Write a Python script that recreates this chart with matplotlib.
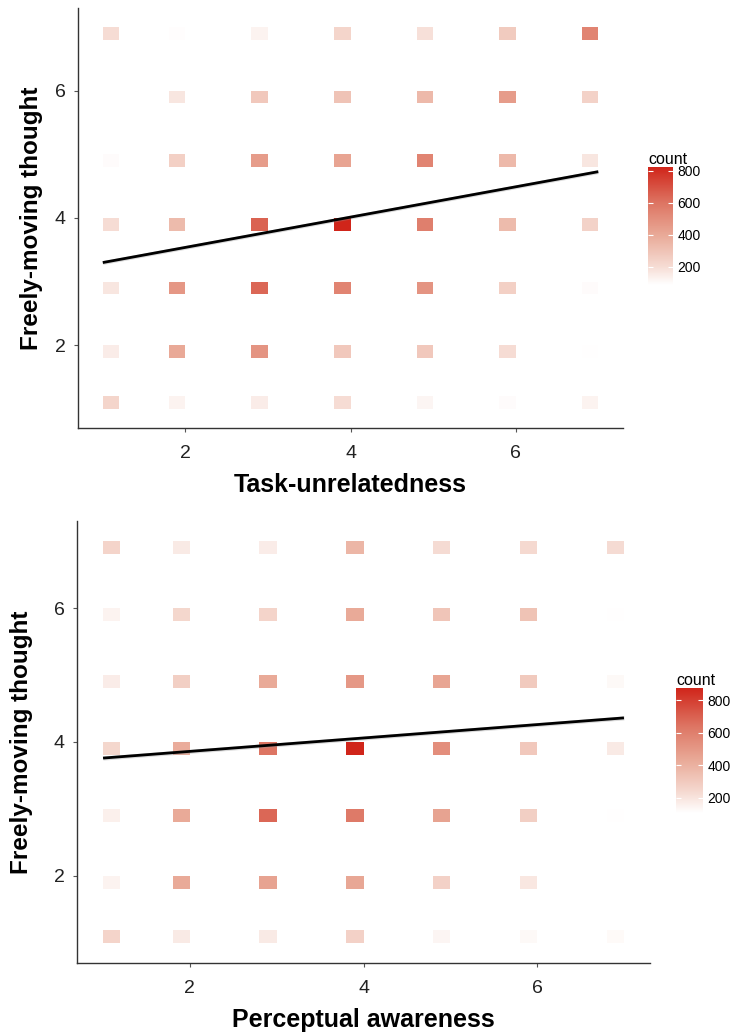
"""
Binned counts of thought ratings with linear fits (two stacked panels).
Generates out.png.
"""
import numpy as np
import matplotlib.pyplot as plt
from matplotlib.colors import LinearSegmentedColormap, Normalize
from matplotlib.cm import ScalarMappable

plt.rcParams['font.family'] = ['Liberation Sans', 'DejaVu Sans']

# ─── Data ───
levels = [1, 2, 3, 4, 5, 6, 7]

# counts per cell, rows are y = 7 (top) ... 1 (bottom), columns x = 1 ... 7
tu_counts = [
    [200, 95, 130, 230, 190, 270, 540],
    [87, 170, 280, 300, 340, 450, 240],
    [100, 250, 450, 420, 540, 340, 170],
    [200, 330, 650, 825, 560, 330, 240],
    [170, 470, 640, 540, 480, 250, 100],
    [150, 400, 480, 280, 280, 200, 90],
    [230, 130, 150, 200, 120, 100, 130],
]
pa_counts = [
    [260, 180, 170, 380, 230, 240, 230],
    [150, 250, 260, 430, 320, 330, 110],
    [170, 280, 430, 500, 450, 300, 130],
    [250, 420, 640, 875, 540, 310, 180],
    [160, 430, 680, 620, 460, 280, 110],
    [150, 430, 460, 440, 270, 190, 106],
    [260, 180, 180, 270, 140, 130, 125],
]

# linear fits: intercept, slope
tu_fit = (3.062, 0.238)
pa_fit = (3.66, 0.10)

cbar_ticks = [200, 400, 600, 800]

# ─── Style ───
cmap = LinearSegmentedColormap.from_list(
    'count', [(0.0, '#FFFFFF'), (0.15, '#F6DDD5'), (0.42, '#E9AA98'),
              (0.70, '#DD7462'), (1.0, '#D0251A')])
tick_col = '#222222'


def bin_centers(vals):
    # ggplot bin2d: value 1 falls in [1, 1.2], others in [v-0.2, v]
    v = np.asarray(vals, dtype=float)
    return np.where(v == 1, v + 0.1, v - 0.1)


def panel(ax, cax, counts, fit, xlabel, xlab_y, ylab_x):
    c = np.array(counts, dtype=float)[::-1]   # row 0 -> y = 1
    norm = Normalize(vmin=c.min(), vmax=c.max())
    xc = bin_centers(levels)
    yc = bin_centers(levels)
    for j, yv in enumerate(yc):
        ax.bar(xc, 0.2, width=0.2, bottom=yv - 0.1,
               color=cmap(norm(c[j])), linewidth=0)

    xs = np.array([1.0, 7.0])
    ys = fit[0] + fit[1] * xs
    ax.fill_between(xs, ys - 0.03, ys + 0.03, color='#999999', alpha=0.35, lw=0)
    ax.plot(xs, ys, color='black', lw=2.0, solid_capstyle='butt')

    ax.set_xlim(0.7, 7.3)
    ax.set_ylim(0.7, 7.3)
    ax.set_xticks([2, 4, 6])
    ax.set_yticks([2, 4, 6])
    for s in ['top', 'right']:
        ax.spines[s].set_visible(False)
    for s in ['left', 'bottom']:
        ax.spines[s].set_color('#333333')
        ax.spines[s].set_linewidth(1.0)
    ax.tick_params(length=3, width=0.8, color='#555555', labelsize=14,
                   labelcolor=tick_col)
    ax.tick_params(axis='x', pad=9)
    ax.tick_params(axis='y', pad=6)

    ax.set_xlabel(xlabel, fontsize=18, weight='bold')
    ax.xaxis.set_label_coords(0.5, xlab_y)
    ax.xaxis.label.set_va('center')
    ax.set_ylabel('Freely-moving thought', fontsize=17.5, weight='bold')
    ax.yaxis.set_label_coords(ylab_x, 0.5)
    ax.yaxis.label.set_va('center')

    sm = ScalarMappable(norm=norm, cmap=cmap)
    cb = plt.colorbar(sm, cax=cax, ticks=cbar_ticks)
    cb.outline.set_visible(False)
    cax.tick_params(length=0, labelsize=10, pad=3)
    cax.hlines(cbar_ticks, 0, 0.2, colors='white', lw=0.8)
    cax.hlines(cbar_ticks, 0.8, 1, colors='white', lw=0.8)
    cax.set_title('count', fontsize=11.5, loc='left', pad=2)


fig = plt.figure(figsize=(7.3, 10.35), dpi=100)
W, H = 730.0, 1035.0


def px_axes(x0, y0, x1, y1):
    return fig.add_axes([x0 / W, 1 - y1 / H, (x1 - x0) / W, (y1 - y0) / H])


ax1 = px_axes(78, 8, 623, 428)
cax1 = px_axes(648, 167, 673, 285)
panel(ax1, cax1, tu_counts, tu_fit, 'Task-unrelatedness', -0.136, -0.085)

ax2 = px_axes(77, 521, 650, 963)
cax2 = px_axes(676, 688, 703, 813)
panel(ax2, cax2, pa_counts, pa_fit, 'Perceptual awareness', -0.13, -0.097)

fig.savefig('out.png', dpi=100, facecolor='white')
